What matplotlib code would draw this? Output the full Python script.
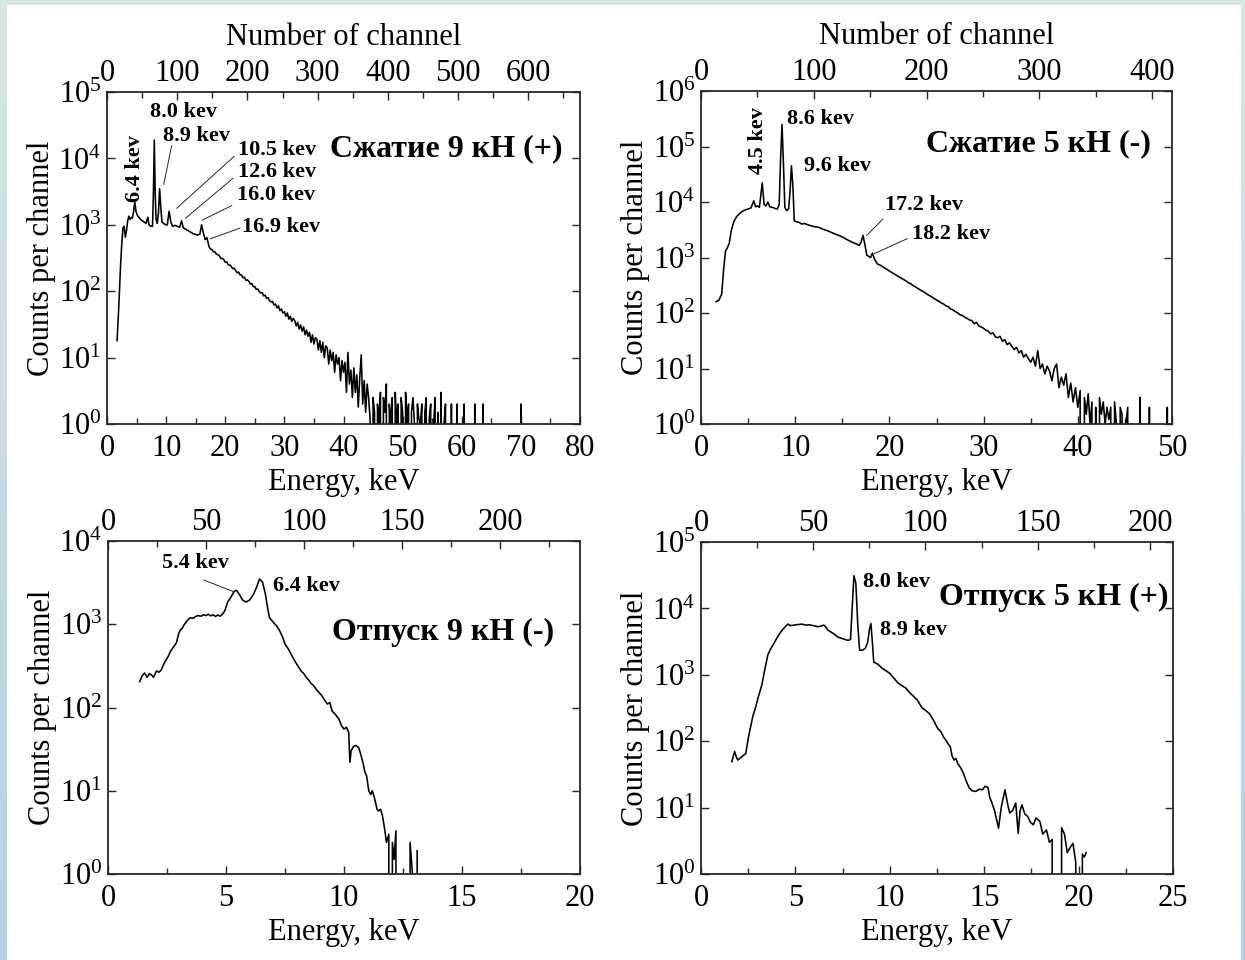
import numpy as np
import matplotlib
matplotlib.use('Agg')
import matplotlib.pyplot as plt
from matplotlib.ticker import MultipleLocator, LogLocator, NullLocator, FuncFormatter

plt.rcParams['font.family'] = 'Liberation Serif'
plt.rcParams['mathtext.fontset'] = 'custom'
plt.rcParams['mathtext.rm'] = 'Liberation Serif'
plt.rcParams['mathtext.it'] = 'Liberation Serif:italic'
plt.rcParams['mathtext.bf'] = 'Liberation Serif:bold'

# ---- spectrum 1: compression 9 kN (+) ----
e1 = [1.7, 2.0, 2.3, 2.5, 2.7, 2.9, 3.1, 3.3, 3.5, 3.7, 3.9, 4.1, 4.3, 4.5, 4.7, 4.9, 5.1, 5.4, 5.7,
      6.0, 6.3, 6.6, 6.9, 7.1, 7.4, 7.7, 7.85, 8.0, 8.15, 8.3, 8.5, 8.7, 8.9, 9.1, 9.3, 9.6, 9.9,
      10.2, 10.5, 10.8, 11.1, 11.5, 11.9, 12.3, 12.6, 12.9, 13.3, 13.7, 14.1, 14.5, 14.9, 15.3,
      15.7, 16.0, 16.3, 16.6, 16.9,
      17.25, 17.5, 17.75, 18.0, 18.25, 18.5, 18.75, 19.0, 19.25, 19.5, 19.75, 20.0, 20.25, 20.5,
      20.75, 21.0, 21.25, 21.5, 21.75, 22.0, 22.25, 22.5, 22.75, 23.0, 23.25, 23.5, 23.75, 24.0,
      24.25, 24.5, 24.75, 25.0, 25.25, 25.5, 25.75, 26.0, 26.25, 26.5, 26.75, 27.0, 27.25, 27.5,
      27.75, 28.0, 28.25, 28.5, 28.75, 29.0, 29.25, 29.5, 29.75, 30.0, 30.25, 30.5, 30.75, 31.0,
      31.25, 31.5, 31.75, 32.0, 32.25, 32.5, 32.75, 33.0, 33.25, 33.5, 33.75, 34.0, 34.25, 34.5,
      34.75, 35.0, 35.25, 35.5, 35.75, 36.0, 36.25, 36.5, 36.75, 37.0, 37.25, 37.5, 37.75, 38.0,
      38.25, 38.5, 38.75, 39.0, 39.25, 39.5, 39.75, 40.0, 40.25, 40.5, 40.75, 41.0, 41.25, 41.5,
      41.75, 42.0, 42.25, 42.5, 42.75, 43.0, 43.25, 43.5, 43.75, 44.0, 44.25, 44.5, 44.75, 45.0,
      45.25, 45.5, 45.75, 46.0, 46.25, 46.5, 46.75, 47.0, 47.25, 47.5, 47.75, 48.0, 48.25, 48.5,
      48.75, 49.0, 49.25, 49.5, 49.75, 50.0, 50.25, 50.5, 50.75, 51.0, 51.25, 51.5, 51.75, 52.0,
      52.25, 52.5, 52.75, 53.0, 53.25, 53.5, 53.75, 54.0, 54.25, 54.5, 54.75, 55.0, 55.25, 55.5,
      55.75, 56.0, 56.25, 56.5, 56.75, 57.0, 57.25, 57.5, 58.0, 58.25, 58.5, 59.0, 59.2, 59.4,
      60.2, 60.4, 60.6, 62.0, 62.2, 62.4, 63.4, 63.6, 63.8, 69.8, 70.0, 70.2]
c1 = [18, 60, 250, 520, 900, 950, 650, 820, 1150, 1350, 1200, 1300, 1250, 1600, 2200, 1600, 1400,
      1300, 1200, 1150, 1100, 1050, 1300, 1000, 950, 950, 3000, 19000, 3000, 1200, 1050, 1500,
      3500, 1800, 1100, 1050, 1000, 1000, 1600, 1100, 950, 980, 950, 920, 1150, 900, 860, 820,
      780, 740, 720, 700, 720, 1000, 750, 600, 640,
      470, 430, 425, 392, 390, 360, 356, 340, 312, 310, 300, 272, 276, 250, 248, 238, 218, 222,
      206, 190, 194, 176, 175, 160, 162, 146, 148, 140, 128, 130, 117, 118, 106, 108, 99, 94,
      95, 85, 87, 78, 80, 72, 69, 70, 62, 64, 56, 60, 51, 54, 47, 49, 42, 47, 38, 42, 35, 39,
      36, 30, 34, 27, 31, 25, 29, 22, 26, 21, 24, 17, 22, 16, 20, 19, 13, 18, 12, 17, 10, 15,
      14, 8, 13, 9, 12, 6, 11, 8, 10, 4.5, 9, 6, 8.5, 3, 12, 4, 6.5, 2.5, 7, 3, 5.5, 1.8, 5, 11,
      2, 4.5, 1.5, 4, 2.5, 1.2, 0, 2.5,
      1.5, 0, 2, 1, 3, 0, 2.5, 1.5, 4, 0, 2, 1, 2.5, 0, 3, 1, 2, 0, 2.5, 1.5, 0, 3, 1, 2, 0, 1.5,
      2.5, 1, 0, 2, 1.2, 1, 2, 0, 1.5, 2.5, 0, 1.2, 2, 0, 1, 2.5, 0, 1.5, 0, 3, 0, 1, 2, 0, 0,
      2, 0, 0, 2, 0, 0, 2, 0, 0, 2, 0, 0, 2, 0, 0, 2, 0]

# ---- spectrum 2: compression 5 kN (-) ----
e2 = [1.6, 1.9, 2.2, 2.4, 2.6, 2.8, 3.0, 3.2, 3.5, 3.8, 4.1, 4.4, 4.7, 5.0, 5.3, 5.6, 5.8, 6.0,
      6.2, 6.5, 6.7, 6.9, 7.1, 7.3, 7.6, 7.9, 8.1, 8.3, 8.45, 8.6, 8.75, 8.9, 9.1, 9.3, 9.45, 9.6,
      9.75, 9.9, 10.1, 10.4, 10.7, 11.0, 11.5, 12.0, 12.5, 13.0, 13.5, 14.0, 14.5, 15.0, 15.5,
      16.0, 16.5, 16.8, 17.0, 17.2, 17.4, 17.6, 17.8, 18.0, 18.2, 18.4, 18.7,
      19.0, 19.25, 19.5, 19.75, 20.0, 20.25, 20.5, 20.75, 21.0, 21.25, 21.5, 21.75, 22.0, 22.25,
      22.5, 22.75, 23.0, 23.25, 23.5, 23.75, 24.0, 24.25, 24.5, 24.75, 25.0, 25.25, 25.5, 25.75,
      26.0, 26.25, 26.5, 26.75, 27.0, 27.25, 27.5, 27.75, 28.0, 28.25, 28.5, 28.75, 29.0, 29.25,
      29.5, 29.75, 30.0, 30.25, 30.5, 30.75, 31.0, 31.25, 31.5, 31.75, 32.0, 32.25, 32.5, 32.75,
      33.0, 33.25, 33.5, 33.75, 34.0, 34.25, 34.5, 34.75, 35.0, 35.25, 35.5, 35.75, 36.0, 36.25,
      36.5, 36.75, 37.0, 37.25, 37.5, 37.75, 38.0, 38.25, 38.5, 38.75, 39.0, 39.25, 39.5, 39.75,
      40.0, 40.25, 40.5, 40.7, 40.9, 41.1, 41.3, 41.5, 41.7, 41.9, 42.1, 42.3, 42.5, 42.7, 42.9,
      43.1, 43.3, 43.5, 43.7, 43.9, 44.1, 44.3, 44.5, 44.7, 44.9, 45.1, 45.3, 45.5, 46.4, 46.6,
      46.8, 47.4, 47.6, 47.8, 49.3, 49.5, 49.7]
c2 = [160, 170, 220, 600, 1300, 1500, 1800, 3000, 4500, 5500, 6200, 6800, 7200, 7500, 7800,
      10500, 8200, 8500, 8000, 22000, 9000, 8500, 10000, 8200, 8000, 7600, 7500, 9000, 60000,
      250000, 50000, 8000, 7000, 7500, 15000, 45000, 20000, 4600, 4400, 4300, 4000, 4100, 3800,
      3600, 3500, 3200, 3000, 2750, 2550, 2350, 2100, 1900, 1750, 1650, 1900, 2500, 1700, 1100,
      1050, 1000, 1200, 950, 770,
      730, 690, 645, 610, 570, 540, 505, 480, 450, 425, 400, 380, 352, 338, 312, 296, 278, 262,
      248, 234, 218, 206, 195, 182, 172, 162, 152, 145, 135, 130, 118, 114, 106, 100, 93, 90,
      84, 80, 75, 73, 64, 68, 58, 56, 53, 49, 47, 42, 44, 37, 36, 38, 31, 33, 27, 29, 25, 22,
      24, 19, 21, 16, 18, 15, 13, 16, 11, 21, 10, 12, 8, 11, 9, 6, 10, 12, 4.5, 7, 5, 8, 3, 5.5,
      2.5, 4.5, 2, 4, 0, 3, 1.5, 3.5, 1, 2.5, 0, 2, 0, 3, 1.5, 2.5, 1, 2, 1.2, 2, 0, 2.5, 1, 0,
      2, 1.5, 0, 1, 2, 0, 0, 3, 0, 0, 2, 0, 0, 2, 0]

# ---- spectrum 3: release 9 kN (-) ----
e3 = [1.34, 1.45, 1.55, 1.66, 1.75, 1.85, 1.93, 2.05, 2.15, 2.25, 2.4, 2.55, 2.64, 2.75, 2.9,
      3.0, 3.06, 3.15, 3.23, 3.35, 3.48, 3.6, 3.7, 3.8, 3.95, 4.05, 4.15, 4.25, 4.35, 4.45, 4.55,
      4.65, 4.75, 4.85, 4.95, 5.07, 5.2, 5.35, 5.45, 5.58, 5.7, 5.85, 6.0, 6.17, 6.3, 6.42, 6.55,
      6.67, 6.76, 6.84, 6.95, 7.05, 7.15, 7.26, 7.4, 7.5, 7.65, 7.85, 8.0, 8.1, 8.18, 8.3, 8.4,
      8.5, 8.6, 8.7, 8.86, 8.95, 9.05, 9.2, 9.3, 9.4, 9.5, 9.6, 9.7, 9.78, 9.9, 10.0, 10.1, 10.2,
      10.25, 10.3, 10.4, 10.5, 10.62, 10.7, 10.8, 10.88, 10.96, 11.05, 11.13, 11.2, 11.3, 11.4,
      11.46, 11.55, 11.63, 11.72, 11.8, 11.9, 11.97, 12.05, 12.12, 12.2, 12.3, 12.7, 12.8, 12.9,
      12.97, 13.1]
c3 = [205, 240, 260, 230, 255, 245, 230, 275, 265, 280, 350, 410, 470, 520, 600, 780, 850, 900,
      990, 1100, 1200, 1180, 1230, 1270, 1250, 1300, 1270, 1320, 1260, 1300, 1240, 1290, 1250,
      1320, 1450, 1850, 2100, 2500, 2550, 2250, 1950, 1850, 1950, 2300, 2800, 3500, 3200, 2300,
      1600, 1200, 1100, 1020, 950, 850, 700, 580, 500, 390, 330, 300, 275, 255, 230, 215, 195,
      185, 160, 150, 140, 120, 110, 115, 90, 85, 78, 73, 60, 55, 58, 50, 22, 30, 34, 35, 33, 28,
      22, 17, 15, 10, 9, 10, 8, 6, 5.7, 6, 5, 3.5, 2.4, 3, 0, 2.4, 1.5, 3.3, 0, 0, 2.4, 1, 0,
      1.9]

# ---- spectrum 4: release 5 kN (+) ----
e4 = [1.63, 1.78, 1.87, 1.95, 2.05, 2.16, 2.27, 2.37, 2.5, 2.63, 2.75, 2.9, 3.05, 3.22, 3.38,
      3.54, 3.7, 3.86, 4.0, 4.17, 4.35, 4.6, 4.75, 4.92, 5.1, 5.34, 5.55, 5.76, 5.95, 6.19, 6.35,
      6.5, 6.6, 6.72, 7.0, 7.25, 7.5, 7.78, 7.92, 8.02, 8.1, 8.2, 8.3, 8.4, 8.55, 8.7, 8.83, 8.93,
      9.0, 9.08, 9.15, 9.36, 9.6, 9.8, 10.0, 10.2, 10.42, 10.6, 10.85, 11.05, 11.27, 11.45, 11.7,
      11.9, 12.1, 12.3, 12.54, 12.7, 12.85, 12.97, 13.1, 13.2, 13.3, 13.4, 13.5, 13.6, 13.75,
      13.9, 14.05, 14.2, 14.35, 14.55, 14.75, 14.9, 15.05, 15.2, 15.3, 15.4, 15.55, 15.76, 15.9,
      16.1, 16.25, 16.35, 16.5, 16.67, 16.8, 16.9, 17.0, 17.15, 17.3, 17.45, 17.6, 17.75, 17.95,
      18.1, 18.3, 18.45, 18.6, 18.8, 19.05, 19.1, 19.25, 19.4, 19.55, 19.7, 19.85, 20.0, 20.15,
      20.2, 20.3, 20.4]
c4 = [49, 70, 58, 52, 55, 58, 62, 65, 110, 166, 240, 330, 480, 700, 1200, 2000, 2500, 2950, 3500,
      4200, 4900, 5800, 5500, 5600, 5700, 5800, 5600, 5650, 5500, 5300, 5400, 5600, 5300, 4700,
      4200, 3700, 3500, 3300, 3400, 12000, 31000, 24000, 6000, 2350, 2350, 2500, 3100, 5000, 5900,
      3000, 1550, 1450, 1250, 1150, 1050, 900, 760, 700, 630, 540, 470, 420, 320, 290, 260, 210,
      155, 140, 115, 104, 90, 83, 60, 52, 55, 46, 40, 33, 25, 20, 18, 17.5, 19, 18.5, 21, 20, 14,
      12, 9, 4.9, 10, 18.5, 11, 8.3, 9, 11.7, 4.1, 9, 11, 8, 7.4, 6, 5.5, 7, 6.2, 4, 4.6, 3, 3.3,
      0, 0, 5, 4, 2.1, 2.5, 2.9, 1.5, 0, 0, 2, 1.8, 2.1]

titles = ['Сжатие 9 кН (+)', 'Сжатие 5 кН (-)', 'Отпуск 9 кН (-)', 'Отпуск 5 кН (+)']

# peak labels: (text, x, log10 y, rotated)
peaks1 = [('6.4 kev', 4.8, 3.85, True), ('8.0 kev', 7.3, 4.7, False), ('8.9 kev', 9.5, 4.33, False),
          ('10.5 kev', 22.1, 4.12, False), ('12.6 kev', 22.1, 3.8, False),
          ('16.0 kev', 22.0, 3.45, False), ('16.9 kev', 22.9, 2.97, False)]
leaders1 = [(9.6, 3.61, 10.93, 4.19), (11.8, 3.25, 21.5, 4.03), (13.3, 3.1, 21.3, 3.7),
            (16.1, 3.07, 21.1, 3.29), (17.5, 2.79, 22.5, 2.95)]
peaks2 = [('4.5 kev', 6.0, 5.1, True), ('8.6 kev', 9.15, 5.5, False), ('9.6 kev', 10.9, 4.65, False),
          ('17.2 kev', 19.5, 3.95, False), ('18.2 kev', 22.4, 3.42, False)]
leaders2 = [(17.6, 3.4, 19.3, 3.69), (18.4, 3.07, 21.9, 3.34)]
peaks3 = [('5.4 kev', 2.3, 3.74, False), ('6.4 kev', 7.0, 3.46, False)]
leaders3 = [(4.07, 3.53, 5.33, 3.39)]
peaks4 = [('8.0 kev', 8.56, 4.4, False), ('8.9 kev', 9.47, 3.67, False)]
leaders4 = []

W, H = 1245, 960
fig = plt.figure(figsize=(W / 100, H / 100), dpi=100)
fig.patch.set_facecolor('white')

# slide-like border
bg = fig.add_axes([0, 0, 1, 1], zorder=-10)
bg.set_xlim(0, W)
bg.set_ylim(H, 0)
bg.axis('off')
top_col = np.array([214, 232, 223]) / 255
bot_col = np.array([178, 208, 234]) / 255
t = np.linspace(0, 1, 200)[:, None, None]
grad = top_col * (1 - t) + bot_col * t
bg.imshow(grad, extent=[0, 7, H, 0], aspect='auto')
bg.imshow(grad, extent=[1241, W, H, 0], aspect='auto')
bg.add_patch(plt.Rectangle((0, 0), W, 5, color=top_col, lw=0))

dark = '#262626'
FS = 22


def px_rect(x0, y0, x1, y1):
    return [x0 / W, 1 - y1 / H, (x1 - x0) / W, (y1 - y0) / H]


def sup_fmt(v, pos):
    return r'$\mathregular{10^{%d}}$' % int(round(np.log10(v)))


def panel(rect, e, c, xmax, ytop, chk, xmaj, xmin, chmaj, chmin, title, tpos,
          peaks, leaders, top_label):
    ax = fig.add_axes(rect)
    ax.plot(e, c, color='black', lw=1.15)
    ax.set_yscale('log', nonpositive='clip')
    ax.set_xlim(0, xmax)
    ax.set_ylim(1, 10 ** ytop)
    ax.xaxis.set_major_locator(MultipleLocator(xmaj))
    ax.xaxis.set_minor_locator(MultipleLocator(xmin))
    ax.yaxis.set_major_locator(LogLocator(base=10, numticks=20))
    ax.yaxis.set_minor_locator(NullLocator())
    ax.yaxis.set_major_formatter(FuncFormatter(sup_fmt))
    ax.tick_params(axis='both', which='both', direction='in', labelsize=FS, colors=dark,
                   labelcolor='black')
    ax.tick_params(axis='y', which='major', right=True, length=6, width=1, pad=4)
    ax.tick_params(axis='x', which='major', length=6, width=1, pad=7)
    ax.tick_params(axis='x', which='minor', length=4, width=1)
    ax.set_xlabel('Energy, keV', fontsize=FS, labelpad=4)
    ax.set_ylabel('Counts per channel', fontsize=FS, labelpad=2)
    for s in ax.spines.values():
        s.set_color(dark)
        s.set_linewidth(1.3)

    top = ax.twiny()
    top.set_xlim(0, xmax * chk)
    top.xaxis.set_major_locator(MultipleLocator(chmaj))
    top.xaxis.set_minor_locator(MultipleLocator(chmin))
    top.tick_params(axis='x', which='both', direction='in', labelsize=FS, colors=dark,
                    labelcolor='black', pad=3)
    top.tick_params(axis='x', which='major', length=6, width=1)
    top.tick_params(axis='x', which='minor', length=4, width=1)
    top.set_xlim(0, xmax * chk)
    if top_label:
        top.set_xlabel('Number of channel', fontsize=FS, labelpad=10)
    for s in top.spines.values():
        s.set_visible(False)

    for txt, x, ly, rot in peaks:
        if rot:
            ax.text(x, 10 ** ly, txt, rotation=90, ha='center', va='center',
                    fontsize=16, fontweight='bold')
        else:
            ax.text(x, 10 ** ly, txt, ha='left', va='center', fontsize=16, fontweight='bold')
    for x0, l0, x1, l1 in leaders:
        ax.plot([x0, x1], [10 ** l0, 10 ** l1], color=dark, lw=0.7)
    ax.text(tpos[0], 10 ** tpos[1], title, ha='left', va='center', fontsize=23,
            fontweight='bold', zorder=5)
    return ax


panel(px_rect(107, 92, 580, 424), e1, c1, 80, 5, 8.42, 10, 5, 100, 50, titles[0], (37.8, 4.15),
      peaks1, leaders1, True)
panel(px_rect(701, 91, 1172, 424), e2, c2, 50, 6, 8.35, 10, 5, 100, 50, titles[1], (23.9, 5.05),
      peaks2, leaders2, True)
panel(px_rect(108, 541, 580, 874), e3, c3, 20, 4, 12.04, 5, 2.5, 50, 25, titles[2], (9.5, 2.9),
      peaks3, leaders3, False)
panel(px_rect(701, 542, 1173, 874), e4, c4, 25, 5, 8.41, 5, 2.5, 50, 25, titles[3], (12.6, 4.16),
      peaks4, leaders4, False)

fig.savefig('out.png', dpi=100)
